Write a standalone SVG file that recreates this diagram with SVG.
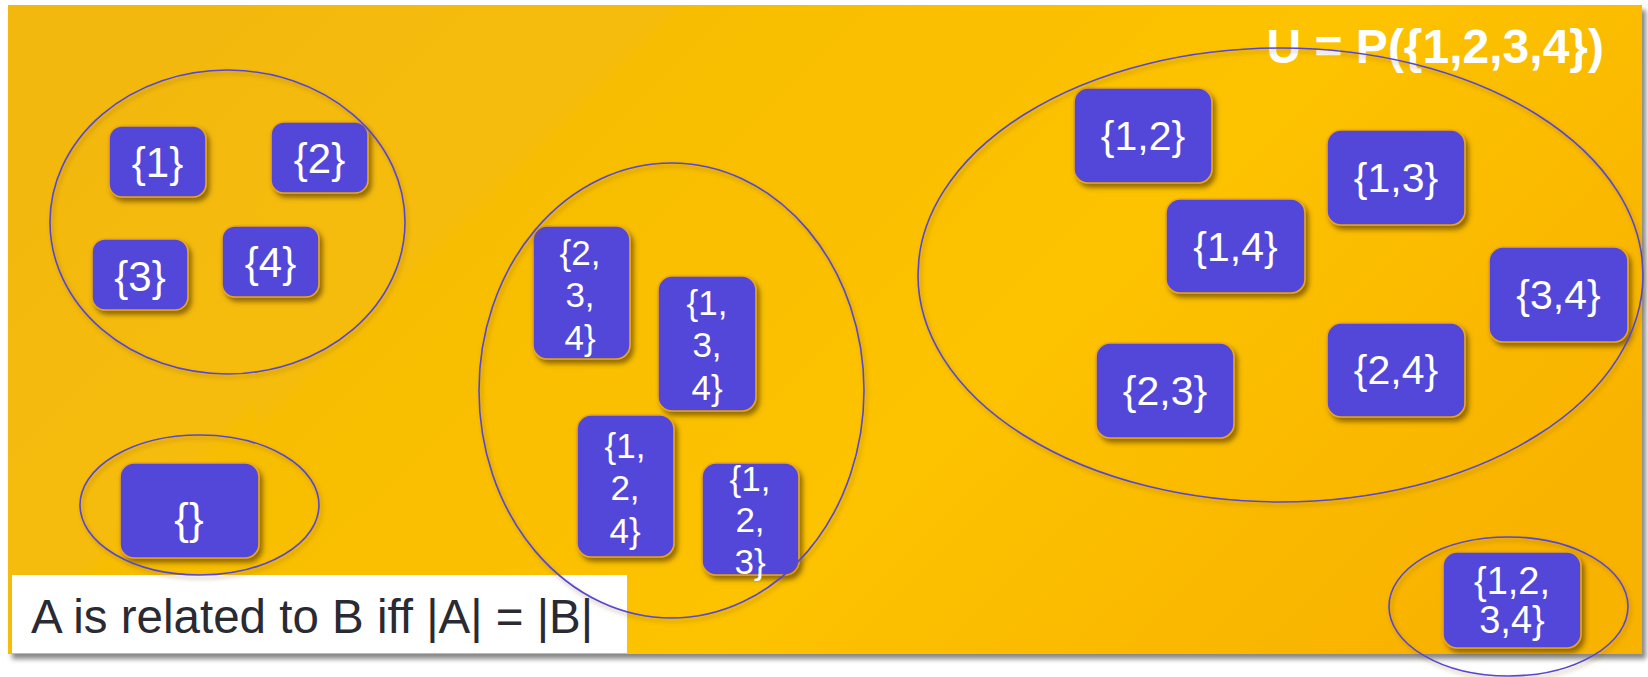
<svg xmlns="http://www.w3.org/2000/svg" width="1648" height="677" viewBox="0 0 1648 677">
<defs>
<linearGradient id="bg" x1="0" y1="0.3" x2="1" y2="0.7">
<stop offset="0" stop-color="#F2B80B"/>
<stop offset="0.6" stop-color="#FDC300"/>
<stop offset="1" stop-color="#F8B200"/>
</linearGradient>
<filter id="bgsh" x="-2%" y="-2%" width="104%" height="106%">
<feDropShadow dx="4" dy="5" stdDeviation="2.5" flood-color="#555" flood-opacity="0.7"/>
</filter>
<filter id="nsh" x="-15%" y="-15%" width="135%" height="135%">
<feDropShadow dx="3" dy="4" stdDeviation="2.5" flood-color="#5a3d00" flood-opacity="0.65"/>
</filter>
<filter id="esh" x="-5%" y="-5%" width="112%" height="112%">
<feDropShadow dx="2" dy="3" stdDeviation="2" flood-color="#7a5500" flood-opacity="0.45"/>
</filter>
</defs>
<style>
.node rect{fill:#5347D9;stroke:#E9A51A;stroke-width:1.6;filter:url(#nsh)}
.node text{fill:#FFFFFF;font-family:"Liberation Sans",Arial,sans-serif;text-anchor:middle}
.s42{font-size:42px}
.s40{font-size:41px}
.s35{font-size:35px}
.s38{font-size:38px}
.grp{fill:none;stroke:#5447D2;stroke-width:1.6;filter:url(#esh)}
</style>
<rect x="0" y="0" width="1648" height="677" fill="#FFFFFF"/>
<rect id="background" x="8" y="5" width="1634" height="649" fill="url(#bg)" filter="url(#bgsh)"/>
<text id="title" x="1604" y="63" text-anchor="end" font-family="Liberation Sans,Arial,sans-serif" font-weight="bold" font-size="48" fill="#FFFFFF">U = P({1,2,3,4})</text>
<g id="caption">
<rect x="12" y="575" width="615" height="78" fill="#FFFFFF"/>
<text x="31" y="633" font-family="Liberation Sans,Arial,sans-serif" font-size="47.5" fill="#2A2A33">A is related to B iff |A| = |B|</text>
</g>
<g id="n1" class="node"><rect x="109" y="126" width="97" height="71" rx="13"/><text class="s42" x="157.5" y="177">{1}</text></g>
<g id="n2" class="node"><rect x="271" y="122" width="97" height="71" rx="13"/><text class="s42" x="319.5" y="173">{2}</text></g>
<g id="n3" class="node"><rect x="92" y="239" width="96" height="71" rx="13"/><text class="s42" x="140" y="291">{3}</text></g>
<g id="n4" class="node"><rect x="222" y="226" width="97" height="71" rx="13"/><text class="s42" x="270.5" y="277">{4}</text></g>
<g id="n0" class="node"><rect x="120" y="463" width="139" height="95" rx="14"/><text x="189" y="534" style="font-size:44px">{}</text></g>
<g id="n234" class="node"><rect x="533" y="226" width="97" height="133" rx="14"/><text class="s35" x="580"><tspan x="580" y="265">{2,</tspan><tspan x="580" y="307">3,</tspan><tspan x="580" y="350">4}</tspan></text></g>
<g id="n134" class="node"><rect x="658" y="276" width="98" height="135" rx="14"/><text class="s35" x="707"><tspan x="707" y="315">{1,</tspan><tspan x="707" y="357">3,</tspan><tspan x="707" y="400">4}</tspan></text></g>
<g id="n124" class="node"><rect x="577" y="415" width="97" height="142" rx="14"/><text class="s35" x="625"><tspan x="625" y="458">{1,</tspan><tspan x="625" y="500">2,</tspan><tspan x="625" y="543">4}</tspan></text></g>
<g id="n123" class="node"><rect x="702" y="463" width="97" height="112" rx="14"/><text class="s35" x="750"><tspan x="750" y="491">{1,</tspan><tspan x="750" y="532">2,</tspan><tspan x="750" y="574">3}</tspan></text></g>
<g id="n12" class="node"><rect x="1074" y="88" width="138" height="95" rx="14"/><text class="s40" x="1143" y="150">{1,2}</text></g>
<g id="n13" class="node"><rect x="1327" y="130" width="138" height="95" rx="14"/><text class="s40" x="1396" y="192">{1,3}</text></g>
<g id="n14" class="node"><rect x="1166" y="199" width="139" height="94" rx="14"/><text class="s40" x="1235.5" y="261">{1,4}</text></g>
<g id="n34" class="node"><rect x="1489" y="247" width="139" height="95" rx="14"/><text class="s40" x="1558.5" y="309">{3,4}</text></g>
<g id="n23" class="node"><rect x="1096" y="343" width="138" height="95" rx="14"/><text class="s40" x="1165" y="405">{2,3}</text></g>
<g id="n24" class="node"><rect x="1327" y="323" width="138" height="94" rx="14"/><text class="s40" x="1396" y="384">{2,4}</text></g>
<g id="n1234" class="node"><rect x="1443" y="552" width="138" height="96" rx="14"/><text class="s38" x="1512"><tspan x="1512" y="594">{1,2,</tspan><tspan x="1512" y="633">3,4}</tspan></text></g>
<g id="classes">
<ellipse class="grp" cx="227.5" cy="222" rx="177.5" ry="152"/>
<ellipse class="grp" cx="199.5" cy="505" rx="119.5" ry="70"/>
<ellipse class="grp" cx="671.5" cy="390.5" rx="192.5" ry="227.5"/>
<ellipse class="grp" cx="1280.5" cy="275" rx="362.5" ry="227"/>
<ellipse class="grp" cx="1508.5" cy="606.5" rx="119.5" ry="69.5"/>
</g>
</svg>
